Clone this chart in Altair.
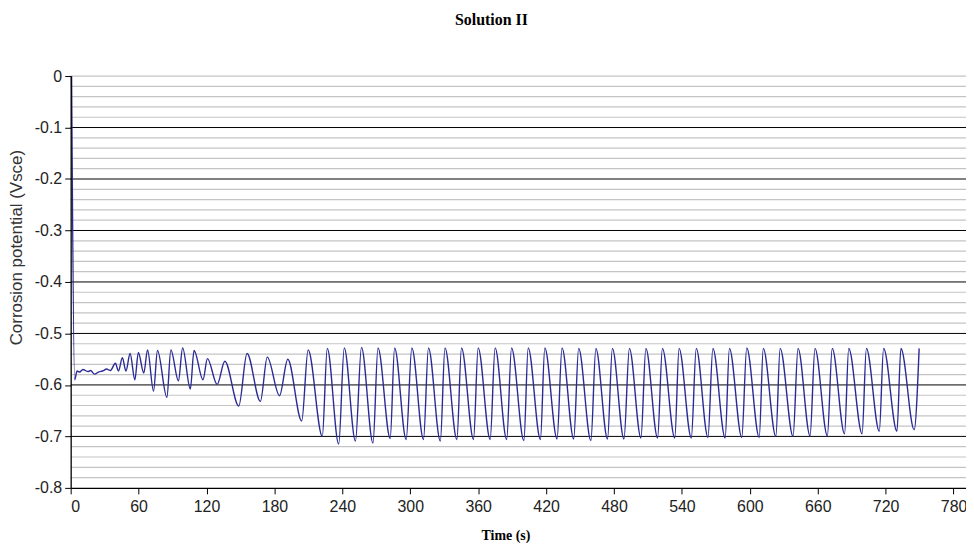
import altair as alt
import pandas as pd

# Time (s) and corrosion potential (V) at turning points
time_s = [0.8, 3.5, 5.7, 7.9, 10.8, 15.2, 17.6, 21.1, 24.6, 29.0, 31.6, 35.1, 39.5, 42.2,
          45.7, 48.8, 52.5, 56.7, 59.8, 64.6, 67.9, 73.2, 76.7, 85.0, 88.5, 95.2, 98.9,
          105.7, 109.0, 116.9, 120.8, 129.4, 136.2, 148.5, 155.8, 167.6, 173.7, 184.5,
          191.8, 204.1, 209.8, 222.3, 226.7, 236.8, 241.7, 251.6, 256.9, 267.1, 271.5,
          282.3, 286.2, 296.4, 301.4, 311.7, 316.1, 326.6, 330.7, 341.2, 345.3, 355.9,
          360.0, 370.6, 375.0, 385.2, 389.5, 400.4, 404.2, 415.0, 418.9, 429.7, 434.1,
          444.4, 448.8, 459.6, 464.0, 474.3, 478.6, 488.8, 493.6, 503.8, 508.2, 518.5,
          522.8, 533.7, 537.5, 548.3, 552.7, 563.0, 567.4, 578.2, 582.0, 592.9, 597.3,
          608.3, 611.9, 623.0, 626.8, 638.2, 642.6, 653.2, 657.6, 668.5, 672.8, 683.7,
          687.4, 699.2, 703.0, 714.4, 718.2, 730.0, 733.5, 745.2, 749.6]
potential_v = [0.000, -0.590, -0.573, -0.575, -0.570, -0.574, -0.572, -0.579, -0.575,
               -0.572, -0.569, -0.572, -0.558, -0.573, -0.547, -0.573, -0.539, -0.590,
               -0.537, -0.577, -0.532, -0.612, -0.533, -0.624, -0.532, -0.592, -0.528,
               -0.608, -0.533, -0.590, -0.549, -0.599, -0.554, -0.641, -0.539, -0.632,
               -0.546, -0.621, -0.550, -0.670, -0.532, -0.700, -0.529, -0.715, -0.528,
               -0.709, -0.527, -0.713, -0.528, -0.704, -0.528, -0.706, -0.528, -0.706,
               -0.528, -0.709, -0.528, -0.706, -0.528, -0.706, -0.528, -0.706, -0.528,
               -0.706, -0.528, -0.708, -0.528, -0.706, -0.528, -0.705, -0.528, -0.705,
               -0.529, -0.708, -0.529, -0.705, -0.529, -0.705, -0.529, -0.703, -0.529,
               -0.703, -0.529, -0.703, -0.529, -0.703, -0.529, -0.702, -0.529, -0.703,
               -0.529, -0.702, -0.528, -0.702, -0.529, -0.700, -0.529, -0.700, -0.529,
               -0.699, -0.529, -0.699, -0.529, -0.695, -0.529, -0.695, -0.529, -0.690,
               -0.529, -0.690, -0.529, -0.687, -0.529]

x_ticks = [0, 60, 120, 180, 240, 300, 360, 420, 480, 540, 600, 660, 720, 780]
y_ticks = [0, -0.1, -0.2, -0.3, -0.4, -0.5, -0.6, -0.7, -0.8]
y_major_grid = [-0.1, -0.2, -0.3, -0.4, -0.5, -0.6, -0.7]
y_minor_grid = [0, -0.02, -0.04, -0.06, -0.08, -0.12, -0.14, -0.16, -0.18,
                -0.22, -0.24, -0.26, -0.28, -0.32, -0.34, -0.36, -0.38,
                -0.42, -0.44, -0.46, -0.48, -0.52, -0.54, -0.56, -0.58,
                -0.62, -0.64, -0.66, -0.68, -0.72, -0.74, -0.76, -0.78]

df = pd.DataFrame({"t": time_s, "v": potential_v})
minor_df = pd.DataFrame({"v": y_minor_grid})
major_df = pd.DataFrame({"v": y_major_grid})

x_scale = alt.Scale(domain=[0, 791], nice=False, zero=False)
y_scale = alt.Scale(domain=[-0.8, 0], nice=False, zero=False)

y_axis = alt.Axis(
    values=y_ticks, grid=False, zindex=1,
    domainColor="black", domainWidth=1.3, tickColor="black", tickSize=6, tickWidth=1,
    labelFont="Liberation Sans", labelFontSize=16, labelColor="#222", labelPadding=3,
    labelExpr="datum.value == 0 ? '0' : '-' + format(abs(datum.value), '.1f')",
    title="Corrosion potential (Vsce)", titleFont="Liberation Sans", titleFontSize=17,
    titleFontWeight="normal", titleColor="#333", titleAngle=270,
    titleX=-54, titleY=172, titleAlign="center", titleBaseline="middle",
)
x_axis = alt.Axis(
    values=x_ticks, grid=False, zindex=1,
    domainColor="black", domainWidth=1.3, tickColor="black", tickSize=6, tickWidth=1,
    labelFont="Liberation Sans", labelFontSize=16, labelColor="#222", labelPadding=5,
    title="Time (s)", titleFont="Liberation Serif", titleFontSize=14,
    titleFontWeight="bold", titleColor="black",
    titleX=437, titleY=48, titleAlign="center", titleBaseline="middle",
)

minor = alt.Chart(minor_df).mark_rule(color="#c4c4c4", strokeWidth=1.2).encode(
    y=alt.Y("v:Q", scale=y_scale, axis=y_axis)
)
major = alt.Chart(major_df).mark_rule(color="#000000", strokeWidth=1).encode(
    y=alt.Y("v:Q", scale=y_scale, axis=y_axis)
)
line = alt.Chart(df).mark_line(color="#2a2a96", strokeWidth=1.4, interpolate="monotone").encode(
    x=alt.X("t:Q", scale=x_scale, axis=x_axis),
    y=alt.Y("v:Q", scale=y_scale, axis=y_axis),
)

chart = alt.layer(minor, major, line).properties(
    width=900, height=414,
    padding={"left": 63, "top": 67, "right": 0, "bottom": 54},
    autosize=alt.AutoSizeParams(type="none"),
    title=alt.TitleParams("Solution II", font="Liberation Serif", fontSize=16,
                          fontWeight="bold", color="black", anchor="middle",
                          offset=40, dx=-27),
).configure_view(stroke=None)

chart.save("out.html", embed_options={"renderer": "svg", "actions": False})
